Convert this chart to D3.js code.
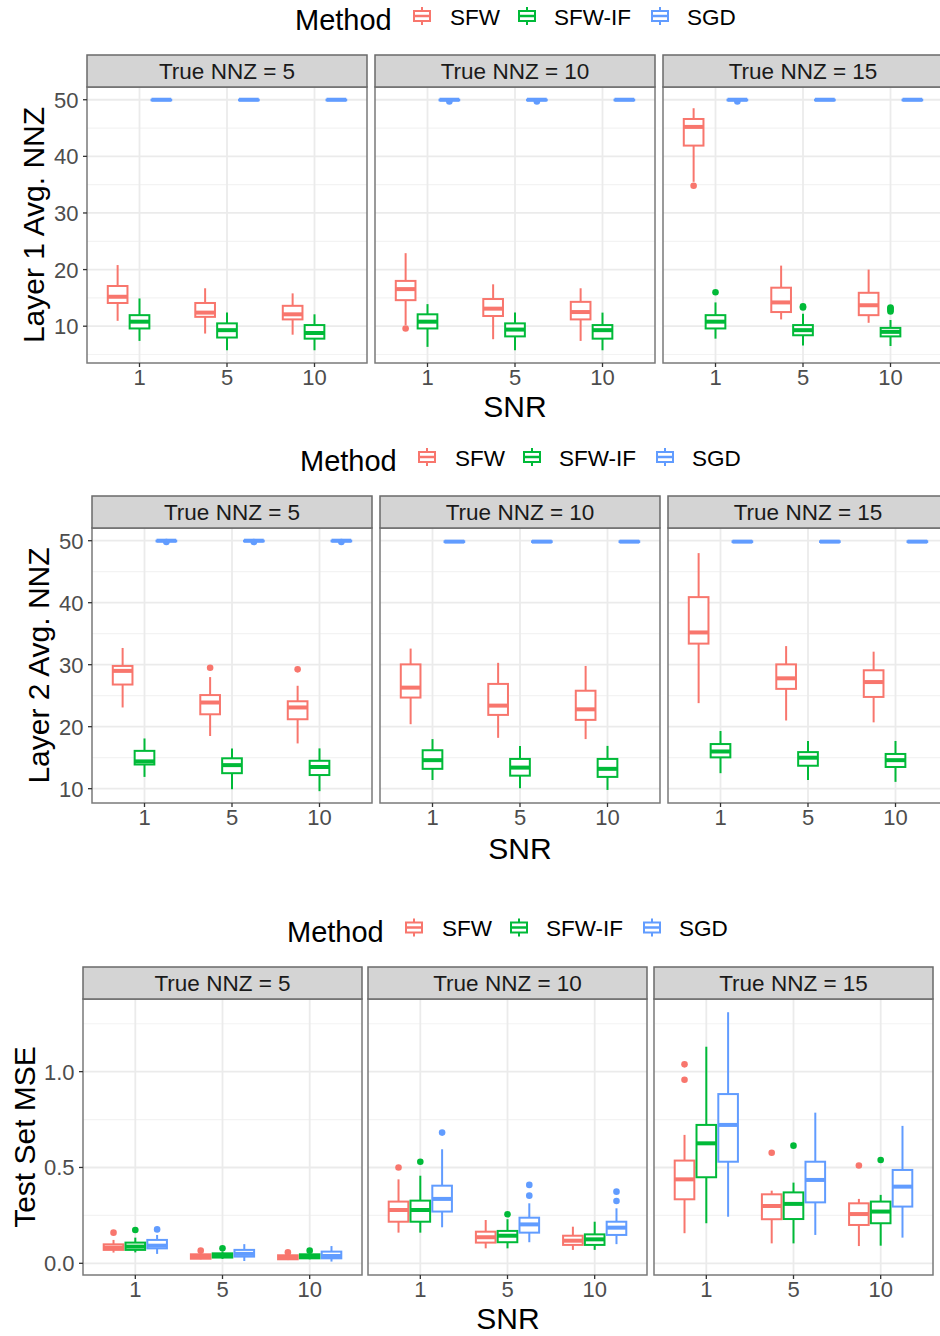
<!DOCTYPE html>
<html>
<head>
<meta charset="utf-8">
<script src="https://cdn.jsdelivr.net/npm/d3@7"></script>
<style>
  body { margin: 0; background: #fff; }
  svg text { font-family: "Liberation Sans", Arial, sans-serif; }
</style>
</head>
<body>
<div id="chart"></div>
<script>
const methods = ["SFW", "SFW-IF", "SGD"];
const methodColors = ["#F8766D", "#00BA38", "#619CFF"];
const snrLabels = ["1", "5", "10"];
const nnzLabels = ["True NNZ = 5", "True NNZ = 10", "True NNZ = 15"];

// [panel, snr, method, lowWhisker, q1, median, q3, highWhisker, outliers]
const layer1Stats = [
  [0, 0, 0, 10.95, 14.1, 15.2, 17.1, 20.8, []],
  [0, 0, 1, 7.4, 9.6, 10.8, 11.95, 14.9, []],
  [0, 0, 2, 49.8, 49.9, 50, 50, 50, []],
  [0, 1, 0, 8.7, 11.65, 12.4, 14.1, 16.7, []],
  [0, 1, 1, 5.75, 8.0, 9.3, 10.5, 12.4, []],
  [0, 1, 2, 49.8, 49.9, 50, 50, 50, []],
  [0, 2, 0, 8.5, 11.2, 12.1, 13.6, 15.8, []],
  [0, 2, 1, 5.75, 7.8, 8.8, 10.2, 12.1, []],
  [0, 2, 2, 49.8, 49.9, 50, 50, 50, []],
  [1, 0, 0, 10.2, 14.6, 16.55, 18.0, 22.9, [9.6]],
  [1, 0, 1, 6.35, 9.6, 10.8, 12.1, 13.9, []],
  [1, 0, 2, 49.8, 49.9, 50, 50, 50, [49.7]],
  [1, 1, 0, 7.7, 11.8, 13.1, 14.8, 17.4, []],
  [1, 1, 1, 5.75, 8.2, 9.4, 10.5, 12.4, []],
  [1, 1, 2, 49.8, 49.9, 50, 50, 50, [49.7]],
  [1, 2, 0, 7.4, 11.2, 12.5, 14.3, 16.7, []],
  [1, 2, 1, 5.75, 7.8, 9.3, 10.2, 12.4, []],
  [1, 2, 2, 49.8, 49.9, 50, 50, 50, []],
  [2, 0, 0, 35.5, 41.9, 45.2, 46.6, 48.5, [34.8]],
  [2, 0, 1, 7.8, 9.6, 10.8, 11.95, 14.2, [16.0]],
  [2, 0, 2, 49.8, 49.9, 50, 50, 50, [49.7]],
  [2, 1, 0, 11.2, 12.5, 14.2, 16.8, 20.7, []],
  [2, 1, 1, 6.6, 8.4, 9.3, 10.2, 12.2, [13.3, 13.5]],
  [2, 1, 2, 49.8, 49.9, 50, 50, 50, []],
  [2, 2, 0, 10.6, 11.95, 13.7, 15.9, 20.0, []],
  [2, 2, 1, 6.5, 8.2, 9.0, 9.7, 11.1, [12.6, 12.9, 13.1, 13.3]],
  [2, 2, 2, 49.8, 49.9, 50, 50, 50, []]
];

const layer2Stats = [
  [0, 0, 0, 23.1, 26.8, 29.0, 29.8, 32.7, []],
  [0, 0, 1, 11.9, 13.9, 14.4, 16.1, 18.1, []],
  [0, 0, 2, 49.85, 49.9, 50, 50, 50, [49.8]],
  [0, 1, 0, 18.5, 22.0, 23.9, 25.1, 28.0, [29.5]],
  [0, 1, 1, 9.9, 12.5, 13.8, 14.9, 16.5, []],
  [0, 1, 2, 49.85, 49.9, 50, 50, 50, [49.8]],
  [0, 2, 0, 17.3, 21.2, 23.1, 24.1, 26.6, [29.25]],
  [0, 2, 1, 9.6, 12.2, 13.5, 14.5, 16.5, []],
  [0, 2, 2, 49.85, 49.9, 50, 50, 50, [49.8]],
  [1, 0, 0, 20.4, 24.7, 26.3, 30.05, 32.6, []],
  [1, 0, 1, 11.4, 13.2, 14.6, 16.2, 18.0, []],
  [1, 0, 2, 49.75, 49.8, 49.85, 49.9, 49.9, []],
  [1, 1, 0, 18.2, 21.9, 23.4, 26.9, 30.3, []],
  [1, 1, 1, 10.05, 12.1, 13.4, 14.8, 16.9, []],
  [1, 1, 2, 49.75, 49.8, 49.85, 49.9, 49.9, []],
  [1, 2, 0, 18.0, 21.1, 22.8, 25.8, 29.8, []],
  [1, 2, 1, 9.8, 11.9, 13.2, 14.8, 16.9, []],
  [1, 2, 2, 49.75, 49.8, 49.85, 49.9, 49.9, []],
  [2, 0, 0, 23.8, 33.4, 35.2, 40.9, 48.0, []],
  [2, 0, 1, 12.5, 15.05, 16.0, 17.2, 19.3, []],
  [2, 0, 2, 49.75, 49.8, 49.85, 49.9, 49.9, []],
  [2, 1, 0, 21.0, 26.1, 27.8, 30.05, 33.0, []],
  [2, 1, 1, 11.4, 13.7, 15.0, 15.9, 17.7, []],
  [2, 1, 2, 49.75, 49.8, 49.85, 49.9, 49.9, []],
  [2, 2, 0, 20.7, 24.8, 27.2, 29.1, 32.1, []],
  [2, 2, 1, 11.1, 13.5, 14.6, 15.6, 17.7, []],
  [2, 2, 2, 49.75, 49.8, 49.85, 49.9, 49.9, []]
];

const mseStats = [
  [0, 0, 0, 0.056, 0.07, 0.082, 0.099, 0.122, [0.16]],
  [0, 0, 1, 0.057, 0.07, 0.087, 0.108, 0.134, [0.174]],
  [0, 0, 2, 0.049, 0.078, 0.092, 0.122, 0.148, [0.177]],
  [0, 1, 0, 0.021, 0.024, 0.035, 0.047, 0.052, [0.066]],
  [0, 1, 1, 0.023, 0.03, 0.042, 0.052, 0.061, [0.078]],
  [0, 1, 2, 0.012, 0.035, 0.049, 0.07, 0.10, []],
  [0, 2, 0, 0.017, 0.021, 0.031, 0.042, 0.047, [0.057]],
  [0, 2, 1, 0.021, 0.026, 0.037, 0.047, 0.052, [0.066]],
  [0, 2, 2, 0.009, 0.026, 0.038, 0.061, 0.09, []],
  [1, 0, 0, 0.16, 0.217, 0.278, 0.322, 0.438, [0.5]],
  [1, 0, 1, 0.16, 0.217, 0.278, 0.327, 0.457, [0.53]],
  [1, 0, 2, 0.188, 0.27, 0.336, 0.405, 0.595, [0.682]],
  [1, 1, 0, 0.078, 0.108, 0.136, 0.165, 0.226, []],
  [1, 1, 1, 0.078, 0.11, 0.144, 0.169, 0.23, [0.256]],
  [1, 1, 2, 0.11, 0.16, 0.203, 0.238, 0.313, [0.353, 0.409]],
  [1, 2, 0, 0.07, 0.096, 0.118, 0.144, 0.191, []],
  [1, 2, 1, 0.07, 0.096, 0.125, 0.151, 0.217, []],
  [1, 2, 2, 0.10, 0.148, 0.186, 0.217, 0.287, [0.325, 0.374]],
  [2, 0, 0, 0.157, 0.334, 0.438, 0.536, 0.67, [0.958, 1.038]],
  [2, 0, 1, 0.209, 0.449, 0.626, 0.722, 1.13, []],
  [2, 0, 2, 0.243, 0.53, 0.722, 0.883, 1.31, []],
  [2, 1, 0, 0.104, 0.23, 0.299, 0.36, 0.379, [0.577]],
  [2, 1, 1, 0.104, 0.231, 0.31, 0.37, 0.421, [0.614]],
  [2, 1, 2, 0.148, 0.318, 0.435, 0.53, 0.786, []],
  [2, 2, 0, 0.09, 0.2, 0.257, 0.313, 0.336, [0.51]],
  [2, 2, 1, 0.092, 0.209, 0.27, 0.322, 0.357, [0.539]],
  [2, 2, 2, 0.134, 0.296, 0.4, 0.487, 0.717, []]
];

const nnzTicks = [10, 20, 30, 40, 50];
const nnzMinor = [5, 15, 25, 35, 45];
const mseTicks = [0, 0.5, 1.0];
const mseMinor = [0.25, 0.75, 1.25];

const charts = [
  {
    stats: layer1Stats, yTitle: "Layer 1 Avg. NNZ", yDomain: [3.5, 52.25],
    ticks: nnzTicks, minor: nnzMinor, fmt: d3.format("d"),
    stripTop: 55, panelTop: 87, panelBottom: 363, lefts: [87, 375, 663], panelW: 280,
    legendX: 295, legendCy: 16, yTitleX: 44, snrY: 417
  },
  {
    stats: layer2Stats, yTitle: "Layer 2 Avg. NNZ", yDomain: [7.69, 52.05],
    ticks: nnzTicks, minor: nnzMinor, fmt: d3.format("d"),
    stripTop: 496, panelTop: 528, panelBottom: 803, lefts: [92, 380, 668], panelW: 280,
    legendX: 300, legendCy: 457, yTitleX: 49, snrY: 859
  },
  {
    stats: mseStats, yTitle: "Test Set MSE", yDomain: [-0.061, 1.379],
    ticks: mseTicks, minor: mseMinor, fmt: d3.format(".1f"),
    stripTop: 967, panelTop: 999, panelBottom: 1275, lefts: [83, 368, 654], panelW: 279,
    legendX: 287, legendCy: 927.5, yTitleX: 34.5, snrY: 1329
  }
];

const W = 940, H = 1336;
const svg = d3.select("#chart").append("svg")
  .attr("width", W).attr("height", H)
  .attr("viewBox", [0, 0, W, H]);

const color = d3.scaleOrdinal().domain(methods).range(methodColors);

function drawLegend(g, cfg) {
  const cy = cfg.legendCy;
  const lg = g.append("g").attr("transform", `translate(${cfg.legendX},${cy})`);
  lg.append("text").attr("x", 0).attr("y", 14)
    .style("font-size", "29px").attr("fill", "#000").text("Method");
  const keyX = [127, 232, 365];
  const textX = [155, 259, 392];
  methods.forEach((m, i) => {
    const k = lg.append("g").attr("transform", `translate(${keyX[i]},0)`);
    k.append("line").attr("x1", 0).attr("x2", 0).attr("y1", -9).attr("y2", 9)
      .attr("stroke", color(m)).attr("stroke-width", 2);
    k.append("rect").attr("x", -8).attr("y", -5).attr("width", 16).attr("height", 10)
      .attr("fill", "#fff").attr("stroke", color(m)).attr("stroke-width", 2);
    k.append("line").attr("x1", -8).attr("x2", 8).attr("y1", 0).attr("y2", 0)
      .attr("stroke", color(m)).attr("stroke-width", 2.5);
    lg.append("text").attr("x", textX[i]).attr("y", 8.5)
      .style("font-size", "22.5px").attr("fill", "#000").text(m);
  });
}

function drawChart(cfg) {
  const g = svg.append("g");
  drawLegend(g, cfg);

  const y = d3.scaleLinear().domain(cfg.yDomain).range([cfg.panelBottom, cfg.panelTop]);
  const stripH = cfg.panelTop - cfg.stripTop;

  cfg.lefts.forEach((left, p) => {
    const x = d3.scaleBand().domain(snrLabels)
      .range([left, left + cfg.panelW]).paddingInner(0).paddingOuter(0.1);
    const step = x.step();
    const dodge = d3.scaleBand().domain(methods)
      .range([-0.375 * step, 0.375 * step]).paddingInner(0.1).paddingOuter(0.05);
    const bw = dodge.bandwidth();
    const cx = s => x(s) + x.bandwidth() / 2;

    const pg = g.append("g");
    // panel background + grid
    pg.append("rect").attr("x", left).attr("y", cfg.panelTop)
      .attr("width", cfg.panelW).attr("height", cfg.panelBottom - cfg.panelTop)
      .attr("fill", "#fff");
    pg.append("g").selectAll("line").data(cfg.minor.filter(v => y(v) > cfg.panelTop && y(v) < cfg.panelBottom))
      .join("line")
      .attr("x1", left).attr("x2", left + cfg.panelW)
      .attr("y1", d => y(d)).attr("y2", d => y(d))
      .attr("stroke", "#F3F3F3").attr("stroke-width", 1.2);
    pg.append("g").selectAll("line").data(cfg.ticks)
      .join("line")
      .attr("x1", left).attr("x2", left + cfg.panelW)
      .attr("y1", d => y(d)).attr("y2", d => y(d))
      .attr("stroke", "#EBEBEB").attr("stroke-width", 1.8);
    pg.append("g").selectAll("line").data(snrLabels)
      .join("line")
      .attr("x1", d => cx(d)).attr("x2", d => cx(d))
      .attr("y1", cfg.panelTop).attr("y2", cfg.panelBottom)
      .attr("stroke", "#EBEBEB").attr("stroke-width", 1.8);

    // boxes
    const rows = cfg.stats.filter(r => r[0] === p).map(r => ({
      snr: snrLabels[r[1]], method: methods[r[2]],
      lo: r[3], q1: r[4], med: r[5], q3: r[6], hi: r[7], out: r[8]
    }));
    const bx = d => cx(d.snr) + dodge(d.method) + bw / 2;
    const box = pg.append("g").selectAll("g").data(rows).join("g");
    box.append("line")
      .attr("x1", bx).attr("x2", bx)
      .attr("y1", d => y(d.hi)).attr("y2", d => y(d.q3))
      .attr("stroke", d => color(d.method)).attr("stroke-width", 2);
    box.append("line")
      .attr("x1", bx).attr("x2", bx)
      .attr("y1", d => y(d.q1)).attr("y2", d => y(d.lo))
      .attr("stroke", d => color(d.method)).attr("stroke-width", 2);
    box.append("rect")
      .attr("x", d => bx(d) - bw / 2).attr("width", bw)
      .attr("y", d => y(d.q3)).attr("height", d => Math.max(0.01, y(d.q1) - y(d.q3)))
      .attr("fill", "#fff").attr("stroke", d => color(d.method)).attr("stroke-width", 2);
    box.append("line")
      .attr("x1", d => bx(d) - bw / 2).attr("x2", d => bx(d) + bw / 2)
      .attr("y1", d => y(d.med)).attr("y2", d => y(d.med))
      .attr("stroke", d => color(d.method)).attr("stroke-width", 4);
    box.selectAll("circle").data(d => d.out.map(v => ({ v, d }))).join("circle")
      .attr("cx", o => bx(o.d)).attr("cy", o => y(o.v)).attr("r", 3.3)
      .attr("fill", o => color(o.d.method));

    // panel border
    pg.append("rect").attr("x", left).attr("y", cfg.panelTop)
      .attr("width", cfg.panelW).attr("height", cfg.panelBottom - cfg.panelTop)
      .attr("fill", "none").attr("stroke", "#7a7a7a").attr("stroke-width", 1.5);

    // strip
    pg.append("rect").attr("x", left).attr("y", cfg.stripTop)
      .attr("width", cfg.panelW).attr("height", stripH)
      .attr("fill", "#D4D4D4").attr("stroke", "#6a6a6a").attr("stroke-width", 1.5);
    pg.append("text").attr("x", left + cfg.panelW / 2).attr("y", cfg.stripTop + stripH / 2)
      .attr("dy", "0.36em").attr("text-anchor", "middle")
      .style("font-size", "22.5px").attr("fill", "#1A1A1A").text(nnzLabels[p]);

    // x axis
    const xa = pg.append("g").selectAll("g").data(snrLabels).join("g");
    xa.append("line").attr("x1", d => cx(d)).attr("x2", d => cx(d))
      .attr("y1", cfg.panelBottom).attr("y2", cfg.panelBottom + 4)
      .attr("stroke", "#333").attr("stroke-width", 1.3);
    xa.append("text").attr("x", d => cx(d)).attr("y", cfg.panelBottom + 22)
      .attr("text-anchor", "middle").style("font-size", "22px").attr("fill", "#4D4D4D")
      .text(d => d);

    if (p === 0) {
      const ya = pg.append("g").selectAll("g").data(cfg.ticks).join("g");
      ya.append("line").attr("x1", left - 4).attr("x2", left)
        .attr("y1", d => y(d)).attr("y2", d => y(d))
        .attr("stroke", "#333").attr("stroke-width", 1.3);
      ya.append("text").attr("x", left - 8.5).attr("y", d => y(d)).attr("dy", "0.36em")
        .attr("text-anchor", "end").style("font-size", "22px").attr("fill", "#4D4D4D")
        .text(d => cfg.fmt(d));
    }
  });

  // axis titles
  const midY = (cfg.panelTop + cfg.panelBottom) / 2;
  g.append("text").attr("transform", `translate(${cfg.yTitleX},${midY}) rotate(-90)`)
    .attr("text-anchor", "middle").style("font-size", "30px").attr("fill", "#000")
    .text(cfg.yTitle);
  const midX = (cfg.lefts[0] + cfg.lefts[2] + cfg.panelW) / 2;
  g.append("text").attr("x", midX).attr("y", cfg.snrY)
    .attr("text-anchor", "middle").style("font-size", "30px").attr("fill", "#000")
    .text("SNR");
}

charts.forEach(drawChart);
</script>
</body>
</html>
